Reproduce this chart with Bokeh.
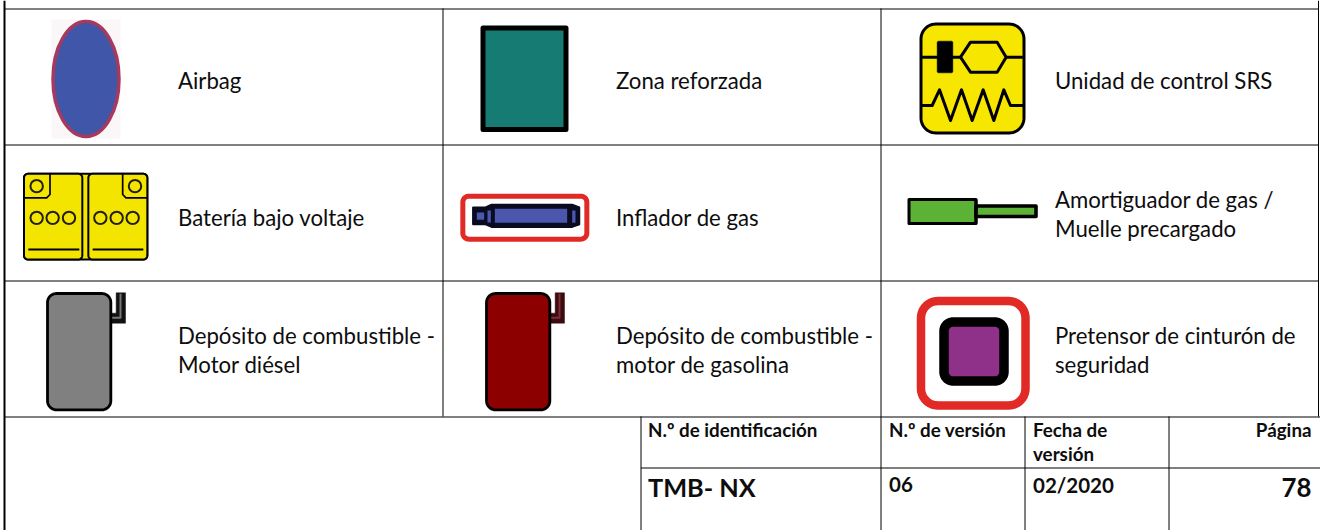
import math
from bokeh.plotting import figure
from bokeh.models import Range1d
from bokeh.core.properties import value
from bokeh.embed import file_html
from bokeh.resources import INLINE

# ---- table content ----
cell_labels = [
    ["Airbag"], ["Zona reforzada"], ["Unidad de control SRS"],
    ["Batería bajo voltaje"], ["Inflador de gas"], ["Amortiguador de gas /", "Muelle precargado"],
    ["Depósito de combustible -", "Motor diésel"], ["Depósito de combustible -", "motor de gasolina"],
    ["Pretensor de cinturón de", "seguridad"],
]
footer_heads = ["N.º de identificación", "N.º de versión", ["Fecha de", "versión"], "Página"]
footer_values = ["TMB- NX", "06", "02/2020", "78"]

FONT = "Lato"
W, H = 1320, 530
p = figure(width=W, height=H, output_backend="svg", toolbar_location=None,
           x_range=Range1d(0, W), y_range=Range1d(H, 0), min_border=0)
p.axis.visible = False
p.grid.visible = False
p.outline_line_color = None
p.background_fill_color = "white"
p.border_fill_color = "white"


def rrect(x0, y0, x1, y1, r):
    xs, ys = [], []
    for cx, cy, a0 in [(x1 - r, y0 + r, -90), (x1 - r, y1 - r, 0), (x0 + r, y1 - r, 90), (x0 + r, y0 + r, 180)]:
        for k in range(13):
            a = math.radians(a0 + k * 7.5)
            xs.append(cx + r * math.cos(a))
            ys.append(cy + r * math.sin(a))
    return xs, ys


def box(x0, y0, x1, y1, r=0, fill="white", line="black", lw=2.0):
    xs, ys = rrect(x0, y0, x1, y1, r) if r else ([x0, x1, x1, x0], [y0, y0, y1, y1])
    p.patch(xs, ys, fill_color=fill, line_color=line, line_width=lw, line_join="round")


def seg(xs, ys, color="black", lw=1.5):
    p.line(xs, ys, line_color=color, line_width=lw, line_join="round")


def txt(x, y, s, size, bold=False, align="left", color="#0d0d0d"):
    p.text([x], [y], text=[s], text_font=value(FONT), text_font_size=f"{size}px",
           text_color=color, text_align=align, text_baseline="middle",
           text_font_style="bold" if bold else "normal")


# ---- grid ----
for y, x0, x1 in [(8.5, 4, 1318), (144.5, 4, 1318), (280.5, 4, 1318), (416.5, 4, 1320), (467.5, 640.5, 1320)]:
    seg([x0, x1], [y, y], lw=1.0)
seg([4, 4], [0, 530], lw=2.0)
seg([1318, 1318], [0, 416], lw=1.0)
seg([442.5, 442.5], [8, 416], lw=1.0)
seg([880.5, 880.5], [8, 530], lw=1.0)
seg([640.5, 640.5], [416, 530], lw=1.0)
seg([1024.5, 1024.5], [416, 530], lw=1.0)
seg([1168.5, 1168.5], [416, 530], lw=1.0)

# ---- airbag ----
box(51, 19, 120, 138, fill="#fbf6f8", line=None, lw=0)
p.ellipse([85.5], [78.5], width=[66], height=[115], fill_color="#3f56a9",
          line_color="#a63a5e", line_width=3.5)

# ---- reinforced zone ----
box(482.5, 27.5, 565.5, 129, fill="#167b72", lw=5)

# ---- SRS unit ----
def sx(z): return 915 + z / 3
def sy(z): return 20 + z / 3
box(920.5, 23.5, 1023.5, 132.5, r=15, fill="#f6e600", lw=3)
seg([sx(15), sx(135)], [sy(110), sy(110)], lw=3.0)
seg([sx(272), sx(322)], [sy(110), sy(110)], lw=3.0)
p.patch([sx(v) for v in [135, 165, 245, 272, 245, 165]],
        [sy(v) for v in [110, 65, 65, 110, 155, 155]],
        fill_color="#f6e600", line_color="black", line_width=3.0, line_join="round")
box(sx(65), sy(62), sx(112), sy(157), r=1.5, fill="black", lw=0.5)
seg([sx(v) for v in [15, 50, 72, 105, 138, 170, 203, 235, 265, 285, 325]],
    [sy(v) for v in [255, 255, 208, 300, 208, 300, 208, 300, 208, 255, 255]], lw=3.0)

# ---- low voltage battery ----
BY = "#f3e500"
def bx(z): return 19.5 + z / 3
def by(z): return 168 + z / 3
box(bx(12), by(16), bx(382), by(273), r=4, fill="#f3e500", lw=2.0)
box(bx(12), by(16), bx(187), by(273), r=4, fill=BY, lw=2.0)
box(bx(205), by(16), bx(382), by(273), r=4, fill=BY, lw=2.0)
seg([bx(12), bx(80), bx(90), bx(90)], [by(88), by(88), by(78), by(16)], lw=1.7)
seg([bx(382), bx(318), bx(308), bx(308)], [by(88), by(88), by(78), by(16)], lw=1.7)
p.circle([bx(v) for v in [50, 50, 98, 147, 241, 290, 338, 345]],
         [by(v) for v in [53, 148, 148, 148, 148, 148, 148, 53]],
         radius=6.2, fill_color=None, line_color="#231f10", line_width=2.0)
seg([bx(25), bx(178)], [by(243), by(243)], lw=2.0)
seg([bx(218), bx(370)], [by(243), by(243)], lw=2.0)

# ---- gas inflator ----
def ix(z): return 455 + z / 3
def iy(z): return 190 + z / 3
box(ix(22), iy(17), ix(394), iy(146), r=6, fill="white", line="#e12a26", lw=5)
p.patch([ix(v) for v in [52, 90, 108, 350, 372, 372, 350, 108, 90, 52]],
        [iy(v) for v in [50, 50, 42, 42, 50, 102, 110, 110, 102, 102]],
        fill_color="#0a0a20", line_color="#0a0a20", line_width=1.5)
for z0, z1, a, b in [(64, 86, 66, 88), (96, 106, 60, 96), (118, 335, 55, 97), (350, 360, 60, 97)]:
    box(ix(z0), iy(a), ix(z1), iy(b), fill="#4a57ad", line=None, lw=0)

# ---- gas spring ----
box(908.5, 199, 975.5, 223, fill="#5bb234", lw=3)
box(975.5, 205.5, 1035.5, 216, fill="#5bb234", lw=3.6)
seg([975.5, 975.5], [199, 223], lw=3)
box(977.5, 208, 981, 213.5, fill="#5bb234", line=None, lw=0)

# ---- fuel tanks ----
def tank(dx, fill, neck, inner):
    def tx(z): return dx + z / 3
    def ty(z): return 270 + z / 3
    p.patch([tx(v) for v in [347, 375, 375, 330, 330, 347]],
            [ty(v) for v in [67, 67, 158, 158, 128, 128]],
            fill_color=neck, line_color=neck, line_width=0.5)
    seg([tx(360), tx(360), tx(332)], [ty(70), ty(142), ty(142)], color=inner, lw=2.0)
    box(tx(141), ty(69), tx(331), ty(418), r=9, fill=fill, lw=2.8)

tank(0, "#808080", "#111111", "#777777")
tank(439, "#8c0000", "#3d0a10", "#7a3038")

# ---- belt pretensioner ----
box(920.5, 300.5, 1025, 405, r=17, fill="white", line="#e12a26", lw=8.5)
box(943.5, 321.5, 1003.5, 380.5, r=9, fill="#8f3089", lw=9.5)

# ---- cell labels ----
col_x = [177.5, 615.5, 1054.5]
row_y = [79.5, 213.5, 349.5]
SIZE = 22.2
for i, lines in enumerate(cell_labels):
    x = col_x[i % 3]
    y = row_y[i // 3]
    if len(lines) == 1:
        if i // 3 == 1:
            txt(x, y + 3, lines[0], SIZE)
        else:
            txt(x, y, lines[0], SIZE)
    else:
        step = 14.2
        txt(x, y - step, lines[0], SIZE)
        txt(x, y + step, lines[1], SIZE)

# ---- footer ----
txt(647.5, 429, footer_heads[0], 18.8, bold=True)
txt(888.5, 429, footer_heads[1], 18.8, bold=True)
txt(1032.5, 429, footer_heads[2][0], 18.8, bold=True)
txt(1032.5, 453, footer_heads[2][1], 18.8, bold=True)
txt(1311, 429, footer_heads[3], 18.8, bold=True, align="right")
txt(647.5, 486.5, footer_values[0], 25.3, bold=True)
txt(888.5, 484, footer_values[1], 20.5, bold=True)
txt(1032.5, 484, footer_values[2], 20.5, bold=True)
txt(1311, 486.5, footer_values[3], 25.8, bold=True, align="right")

open("out.html", "w").write(file_html(p, INLINE))
